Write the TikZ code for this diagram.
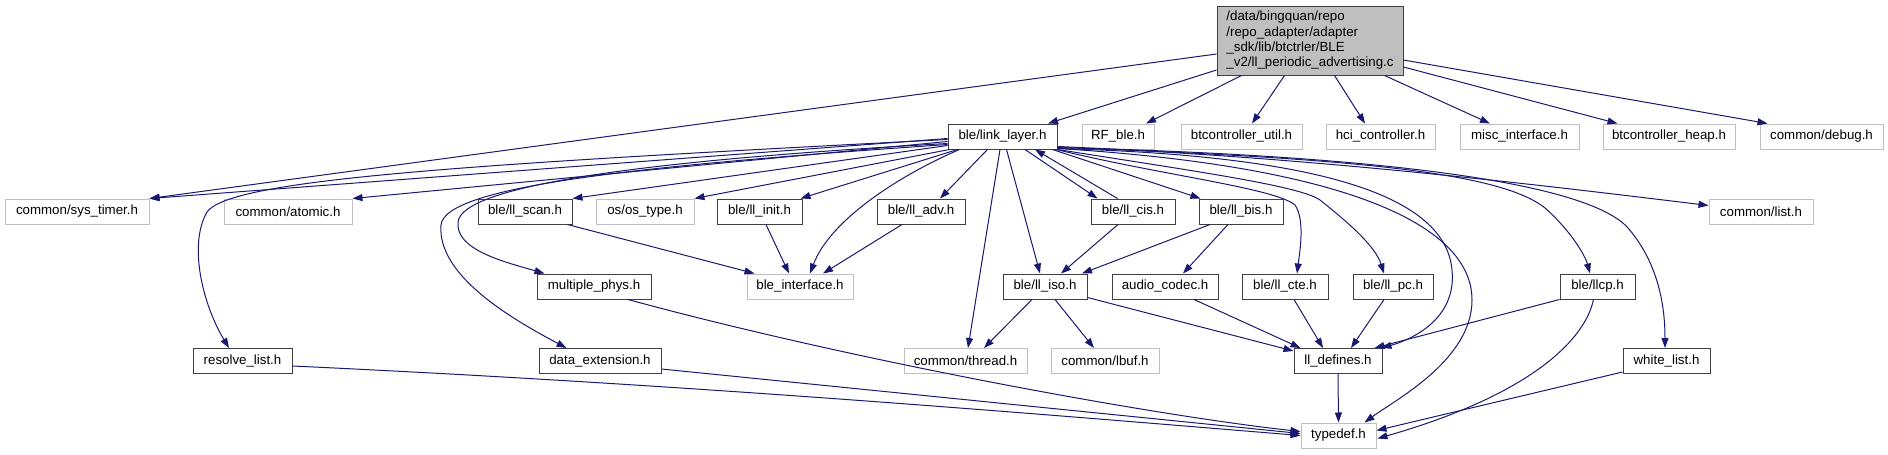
\documentclass[tikz,border=0pt]{standalone}
\usepackage{fontspec}
\setmainfont{Liberation Sans}
\usetikzlibrary{arrows.meta,calc}
\definecolor{edgec}{HTML}{191970}
\definecolor{docb}{HTML}{404040}
\definecolor{undocb}{HTML}{BFBFBF}
\definecolor{mainfill}{HTML}{BFBFBF}
\begin{document}
\begin{tikzpicture}[x=1pt,y=-1pt,
  box/.style={rectangle, inner sep=0pt, minimum height=25pt, line width=1pt,
    font=\fontsize{13.3pt}{15.3pt}\selectfont, fill=white},
  doc/.style={box, draw=docb},
  undoc/.style={box, draw=undocb},
  e/.style={draw=edgec, line width=1pt, -{Triangle[length=10pt,width=7pt]}}]
\useasboundingbox (0,0) rectangle (1888,455);
% main
\node[box, draw=docb, fill=mainfill, minimum width=186pt, minimum height=69pt, align=left] (main) at (1310,40.5)
  {/data/bingquan/repo\\/repo\_adapter/adapter\\\_sdk/lib/btctrler/BLE\\\_v2/ll\_periodic\_advertising.c};
% row 1
\node[doc, minimum width=109pt] (ll) at (1002.5,136.5) {ble/link\_layer.h};
\node[undoc, minimum width=72pt] (rf) at (1118,136.5) {RF\_ble.h};
\node[undoc, minimum width=121pt] (btu) at (1241.5,136.5) {btcontroller\_util.h};
\node[undoc, minimum width=109pt] (hci) at (1380.5,136.5) {hci\_controller.h};
\node[undoc, minimum width=119pt] (misc) at (1519.5,136.5) {misc\_interface.h};
\node[undoc, minimum width=132pt] (bth) at (1669,136.5) {btcontroller\_heap.h};
\node[undoc, minimum width=123pt] (dbg) at (1821.5,136.5) {common/debug.h};
% row 2
\node[undoc, minimum width=144pt] (st) at (77,211.5) {common/sys\_timer.h};
\node[undoc, minimum width=128pt] (atom) at (288,211.5) {common/atomic.h};
\node[doc, minimum width=94pt] (scan) at (525,211.5) {ble/ll\_scan.h};
\node[undoc, minimum width=98pt] (ost) at (645,211.5) {os/os\_type.h};
\node[doc, minimum width=85pt] (init) at (759.5,211.5) {ble/ll\_init.h};
\node[doc, minimum width=88pt] (adv) at (921,211.5) {ble/ll\_adv.h};
\node[doc, minimum width=84pt] (cis) at (1133,211.5) {ble/ll\_cis.h};
\node[doc, minimum width=84pt] (bis) at (1241,211.5) {ble/ll\_bis.h};
\node[undoc, minimum width=104pt] (list) at (1761,211.5) {common/list.h};
% row 3
\node[doc, minimum width=114pt] (mphys) at (594,286.5) {multiple\_phys.h};
\node[undoc, minimum width=106pt] (bif) at (800,286.5) {ble\_interface.h};
\node[doc, minimum width=84pt] (iso) at (1045,286.5) {ble/ll\_iso.h};
\node[doc, minimum width=106pt] (audio) at (1165,286.5) {audio\_codec.h};
\node[doc, minimum width=86pt] (cte) at (1285,286.5) {ble/ll\_cte.h};
\node[doc, minimum width=80pt] (pc) at (1393,286.5) {ble/ll\_pc.h};
\node[doc, minimum width=75pt] (llcp) at (1597.5,286.5) {ble/llcp.h};
% row 4
\node[doc, minimum width=99pt] (rl) at (242.5,361) {resolve\_list.h};
\node[doc, minimum width=122pt] (dext) at (600,361) {data\_extension.h};
\node[undoc, minimum width=123pt] (thr) at (965.5,361) {common/thread.h};
\node[undoc, minimum width=108pt] (lbuf) at (1105,361) {common/lbuf.h};
\node[doc, minimum width=88pt] (lld) at (1338,361) {ll\_defines.h};
\node[doc, minimum width=87pt] (wl) at (1666.5,361) {white\_list.h};
% row 5
\node[undoc, minimum width=75pt] (td) at (1338.5,435.5) {typedef.h};

% main edges
\draw[e] ($(main.west)+(0,13.5)$) -- (st.north east);
\draw[e] ($(main.west)+(0,29.5)$) -- ($(ll.north)+(45.5,0)$);
\draw[e] ($(main.south west)+(25,0)$) -- ($(rf.north)+(28,0)$);
\draw[e] ($(main.south west)+(68,0)$) -- ($(btu.north)+(10.5,0)$);
\draw[e] ($(main.south west)+(118,0)$) -- ($(hci.north)+(-15.5,0)$);
\draw[e] ($(main.south west)+(168,0)$) -- ($(misc.north)+(-29.5,0)$);
\draw[e] ($(main.east)+(0,26.5)$) -- ($(bth.north west)+(15,0)$);
\draw[e] ($(main.east)+(0,19.5)$) -- ($(dbg.north west)+(8,0)$);

% link_layer edges, left side
\draw[e] ($(ll.west)+(0,2)$) -- (st.north east);
\draw[e] ($(ll.west)+(0,5)$) -- (atom.north east);
\draw[e] ($(ll.west)+(0,9)$) -- (scan.north east);
\draw[e] ($(ll.south west)+(2,0)$) -- (ost.north east);
\draw[e] ($(ll.south west)+(10,0)$) -- ($(init.north east)+(-2,0)$);
\draw[e] ($(ll.south west)+(40,0)$) -- ($(adv.north)+(19,0)$);
\draw[e] ($(ll.south west)+(12,0)$) .. controls (900,175) and (830,220) .. ($(bif.north)+(10,0)$);
\draw[e] ($(ll.west)+(0,7)$) .. controls (650,160) and (462,185) .. (458,222) .. controls (455,250) and (505,262) .. ($(mphys.north west)+(8,0)$);
\draw[e] ($(ll.west)+(0,8)$) .. controls (650,165) and (445,185) .. (441,225) .. controls (437,275) and (510,318) .. ($(dext.north west)+(28,0)$);
\draw[e] ($(ll.west)+(0,3)$) .. controls (450,165) and (230,180) .. (207,212) .. controls (188,245) and (203,305) .. ($(rl.north)+(-13.5,0)$);

% link_layer edges, downwards
\draw[e] ($(ll.south)+(-2.5,0)$) -- ($(thr.north)+(2.5,0)$);
\draw[e] ($(ll.south)+(4,0)$) -- ($(iso.north)+(-5,0)$);
\draw[e] ($(ll.south)+(22.5,0)$) -- ($(cis.north west)+(7,0)$);
\draw[e] ($(cis.north west)+(27,0)$) -- ($(ll.south)+(32.5,0)$);
\draw[e] ($(ll.south east)+(-5,0)$) -- ($(bis.north west)+(2,0)$);
\draw[e] ($(ll.south east)+(-1,0)$) .. controls (1160,175) and (1275,188) .. (1295,205) .. controls (1305,220) and (1300,250) .. ($(cte.north)+(12,0)$);
\draw[e] (ll.south east) .. controls (1200,172) and (1300,186) .. (1320,200) .. controls (1345,220) and (1375,245) .. ($(pc.north)+(-9,0)$);

% link_layer edges, right side
\draw[e] ($(ll.south east)+(0,-1)$) .. controls (1300,155) and (1445,190) .. (1452,270) .. controls (1457,320) and (1410,340) .. ($(lld.north east)+(-1,0)$);
\draw[e] ($(ll.south east)+(0,-1)$) .. controls (1330,165) and (1472,220) .. (1472,300) .. controls (1472,360) and (1395,400) .. ($(td.north east)+(-12,0)$);
\draw[e] ($(ll.south east)+(0,-2)$) .. controls (1350,158) and (1500,172) .. (1545,208) .. controls (1570,230) and (1585,255) .. ($(llcp.north)+(-7.5,0)$);
\draw[e] ($(ll.south east)+(0,-2)$) .. controls (1400,156) and (1590,185) .. (1628,228) .. controls (1660,265) and (1665,310) .. ($(wl.north)+(-1.5,0)$);
\draw[e] ($(ll.south east)+(0,-3)$) .. controls (1300,157) and (1500,180) .. ($(list.west)+(0,-6)$);

% other edges
\draw[e] ($(scan.south east)+(-5,0)$) -- ($(bif.north west)+(8,0)$);
\draw[e] ($(init.south)+(6.5,0)$) -- ($(bif.north)+(-11,0)$);
\draw[e] ($(adv.south)+(-19,0)$) -- ($(bif.north)+(23,0)$);
\draw[e] ($(cis.south)+(-15,0)$) -- ($(iso.north)+(16,0)$);
\draw[e] ($(bis.south)+(-31,0)$) -- ($(iso.north)+(37,0)$);
\draw[e] ($(bis.south)+(-13,0)$) -- ($(audio.north)+(18,0)$);
\draw[e] ($(iso.south)+(-13,0)$) -- ($(thr.north)+(18.5,0)$);
\draw[e] ($(iso.south)+(10,0)$) -- ($(lbuf.north)+(-11,0)$);
\draw[e] ($(iso.south east)+(0,-2)$) -- ($(lld.north west)+(0,3)$);
\draw[e] ($(audio.south)+(29,0)$) -- ($(lld.north west)+(7,0)$);
\draw[e] ($(cte.south)+(9,0)$) -- ($(lld.north)+(-15,0)$);
\draw[e] ($(pc.south)+(-9,0)$) -- ($(lld.north)+(13,0)$);
\draw[e] (llcp.south west) -- ($(lld.north east)+(-8,0)$);
\draw[e] ($(llcp.south)+(-4,0)$) .. controls (1585,340) and (1530,395) .. ($(td.east)+(1,3)$);
\draw[e] ($(wl.south west)+(0,-2)$) -- ($(td.east)+(0,-5)$);
\draw[e] (lld.south) -- (td.north);
\draw[e] ($(mphys.south)+(34,0)$) .. controls (850,360) and (1150,415) .. ($(td.west)+(0,-4)$);
\draw[e] ($(dext.east)+(0,8)$) -- ($(td.west)+(0,-2)$);
\draw[e] ($(rl.east)+(0,5)$) .. controls (700,385) and (1050,415) .. ($(td.west)+(0,0)$);
\end{tikzpicture}
\end{document}
